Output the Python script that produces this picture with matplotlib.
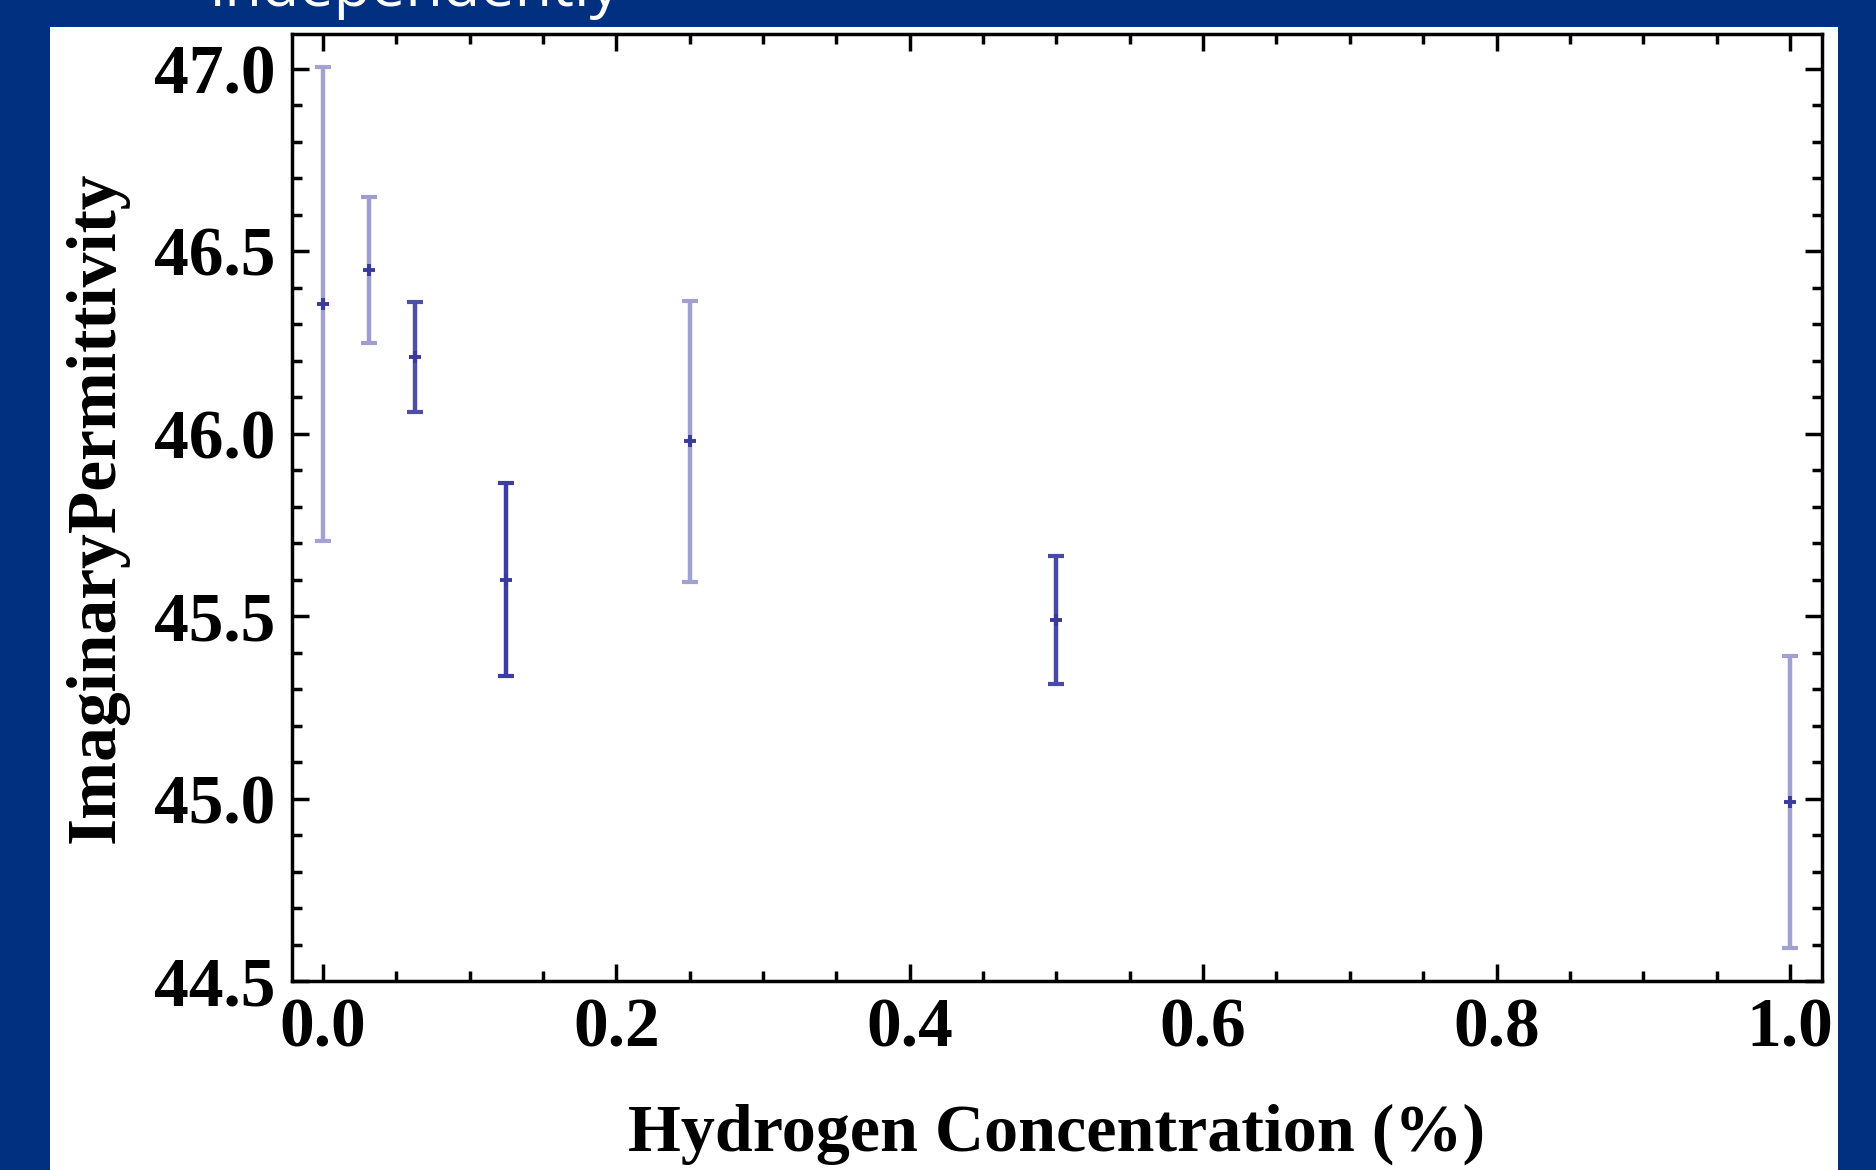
import matplotlib
matplotlib.use("Agg")
import matplotlib.pyplot as plt
from matplotlib.patches import Rectangle
from matplotlib.ticker import MultipleLocator

# hydrogen concentration (%) and measured imaginary permittivity
concentration = [0.0, 0.03125, 0.0625, 0.125, 0.25, 0.5, 1.0]
permittivity = [46.355, 46.45, 46.21, 45.60, 45.98, 45.49, 44.99]
uncertainty = [0.65, 0.20, 0.15, 0.265, 0.385, 0.175, 0.40]

x_ticks = [0.0, 0.2, 0.4, 0.6, 0.8, 1.0]
y_ticks = [44.5, 45.0, 45.5, 46.0, 46.5, 47.0]

# error bar shading differs per point in the original export
bar_colors = ["#a3a3d3", "#9d9dd0", "#4f4faa", "#3c3ca2", "#a0a0d1", "#4848a8", "#a0a0d1"]
point_color = "#3a3a9c"

BG = "#00307f"

fig = plt.figure(figsize=(18.76, 11.70), dpi=100, facecolor=BG)

# white slide panel behind the plot
fig.patches.append(Rectangle((50 / 1876, 0), 1788 / 1876, 1143 / 1170,
                             transform=fig.transFigure, facecolor="white",
                             edgecolor="none", zorder=-5))

# slide title, mostly cut off by the top edge
fig.text(209 / 1876, 1 - 6 / 1170, "independently", color="white",
         fontsize=44, family="Open Sans", ha="left", va="baseline", zorder=-4)

ax = fig.add_axes([292 / 1876, 1 - 981 / 1170, 1530 / 1876, 947 / 1170])
ax.set_facecolor("white")

for x, y, e, c in zip(concentration, permittivity, uncertainty, bar_colors):
    ax.errorbar(x, y, yerr=e, fmt="none", ecolor=c, elinewidth=3.2,
                capsize=6, capthick=3)
ax.plot(concentration, permittivity, linestyle="none", marker="+",
        markersize=8, markeredgewidth=2.8, color=point_color)

ax.set_xlim(-0.021, 1.0218)
ax.set_ylim(44.5, 47.096)
ax.set_xticks(x_ticks)
ax.set_yticks(y_ticks)
ax.set_xticklabels([f"{t:.1f}" for t in x_ticks])
ax.set_yticklabels([f"{t:.1f}" for t in y_ticks])
ax.xaxis.set_minor_locator(MultipleLocator(0.05))
ax.yaxis.set_minor_locator(MultipleLocator(0.1))

ax.tick_params(which="both", direction="in", top=True, right=True,
               width=2.5, color="black")
ax.tick_params(which="major", length=12)
ax.tick_params(which="minor", length=7)
ax.tick_params(axis="x", pad=12)
ax.tick_params(axis="y", pad=12)

for lbl in ax.get_xticklabels() + ax.get_yticklabels():
    lbl.set_fontfamily("Liberation Serif")
    lbl.set_fontweight("bold")
    lbl.set_fontsize(50)

for s in ax.spines.values():
    s.set_linewidth(2.5)

ax.set_xlabel("Hydrogen Concentration (%)", family="Liberation Serif",
              fontweight="bold", fontsize=49, labelpad=30)
ax.set_ylabel("ImaginaryPermittivity", family="Liberation Serif",
              fontweight="bold", fontsize=50, labelpad=18)

fig.savefig("out.png", dpi=100, facecolor=BG)
